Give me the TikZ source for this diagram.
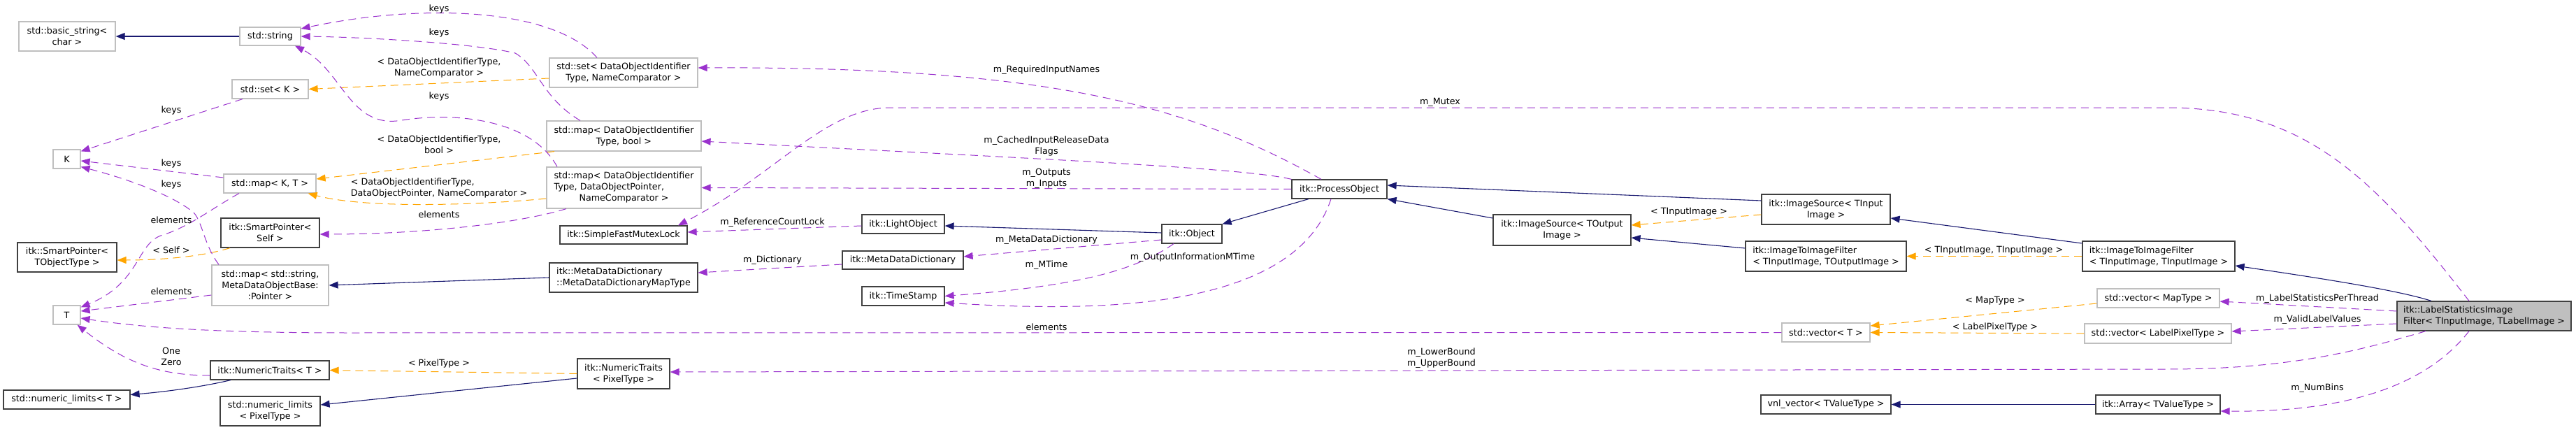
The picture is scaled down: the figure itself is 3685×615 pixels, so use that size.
\documentclass[tikz,border=0pt]{standalone}
\usepackage{fontspec}
\setmainfont{DejaVu Sans}
\usetikzlibrary{arrows.meta}
\definecolor{edgeblue}{HTML}{191970}
\definecolor{edgepurple}{HTML}{9A32CD}
\definecolor{edgeorange}{HTML}{FFA500}
\definecolor{boxgray}{HTML}{BFBFBF}
\definecolor{boxdark}{HTML}{404040}
\newcommand\nodefont{\fontsize{12.7}{16}\selectfont}

\begin{document}
\begin{tikzpicture}[x=1pt, y=-1pt,
    cls/.style={rectangle, draw=boxgray, line width=1.2pt, fill=white, inner sep=0pt, align=center, font=\nodefont},
    doc/.style={cls, draw=boxdark},
    cur/.style={doc, fill=boxgray},
    sz/.style 2 args={minimum width=#1pt, minimum height=#2pt},
    inh/.style={draw=edgeblue, line width=1.1pt, -{Triangle[length=13pt, width=10pt]}},
    mem/.style={draw=edgepurple, line width=1pt, dash pattern=on 11pt off 7pt, -{Triangle[length=13pt, width=10pt]}},
    tpl/.style={mem, draw=edgeorange},
    lbl/.style={font=\nodefont, inner sep=0pt, align=center}]
    \useasboundingbox (0,0) rectangle (3685,615);

    % Nodes
    \node [cls, sz={138}{42}] (bstr) at (96,52) {std::basic\_string<\\char >};
    \node [cls, sz={87}{26}] (str) at (386.5,52) {std::string};
    \node [cls, sz={109}{27}] (setK) at (386.5,127.5) {std::set< K >};
    \node [cls, sz={39}{27}] (K) at (95.5,227.5) {K};
    \node [cls, sz={132}{27}] (mapKT) at (386,262.5) {std::map< K, T >};
    \node [doc, sz={141}{42}] (spSelf) at (386.5,333) {itk::SmartPointer<\\Self >};
    \node [doc, sz={142}{42}] (spObj) at (96,368) {itk::SmartPointer<\\TObjectType >};
    \node [cls, sz={167}{58}] (mapStr) at (386.5,408) {std::map< std::string,\\MetaDataObjectBase:\\:Pointer >};
    \node [cls, sz={39}{27}] (T) at (95.5,450.5) {T};
    \node [doc, sz={170}{27}] (ntT) at (386,529.5) {itk::NumericTraits< T >};
    \node [doc, sz={181}{27}] (nlT) at (95.5,571.5) {std::numeric\_limits< T >};
    \node [doc, sz={143}{42}] (nlPix) at (386.5,588) {std::numeric\_limits\\< PixelType >};
    \node [cls, sz={212}{42}] (setDOI) at (892,104) {std::set< DataObjectIdentifier\\Type, NameComparator >};
    \node [cls, sz={221}{43}] (mapBool) at (892.5,194.5) {std::map< DataObjectIdentifier\\Type, bool >};
    \node [cls, sz={221}{59}] (mapDOP) at (892.5,268.5) {{\begin{tabular}{@{}l@{}}std::map< DataObjectIdentifier\\Type, DataObjectPointer,\\\multicolumn{1}{@{}c@{}}{NameComparator >}\end{tabular}}};
    \node [doc, sz={182}{26}] (mutex) at (892,336) {itk::SimpleFastMutexLock};
    \node [doc, sz={212}{42}, align=left] (mddMap) at (892,397) {itk::MetaDataDictionary\\::MetaDataDictionaryMapType};
    \node [doc, sz={132}{43}] (ntPix) at (892,534.5) {itk::NumericTraits\\< PixelType >};
    \node [doc, sz={118}{27}] (light) at (1292,320.5) {itk::LightObject};
    \node [doc, sz={173}{26}] (mdd) at (1291.5,372) {itk::MetaDataDictionary};
    \node [doc, sz={118}{27}] (stamp) at (1292,423.5) {itk::TimeStamp};
    \node [doc, sz={86}{27}] (obj) at (1705,334.5) {itk::Object};
    \node [doc, sz={136}{27}] (proc) at (1916,270.5) {itk::ProcessObject};
    \node [doc, sz={197}{44}] (srcOut) at (2234.5,329) {itk::ImageSource< TOutput\\Image >};
    \node [doc, sz={184}{43}] (srcIn) at (2612,299.5) {itk::ImageSource< TInput\\Image >};
    \node [doc, sz={230}{43}, align=left] (i2iOut) at (2612,366.5) {itk::ImageToImageFilter\\< TInputImage, TOutputImage >};
    \node [cls, sz={126}{27}] (vecT) at (2612,475.5) {std::vector< T >};
    \node [doc, sz={186}{27}] (vnl) at (2612,578.5) {vnl\_vector< TValueType >};
    \node [doc, sz={218}{43}, align=left] (i2iIn) at (3088,366.5) {itk::ImageToImageFilter\\< TInputImage, TInputImage >};
    \node [cls, sz={175}{27}] (vecMap) at (3087.5,426.5) {std::vector< MapType >};
    \node [cls, sz={210}{28}] (vecLab) at (3087,477) {std::vector< LabelPixelType >};
    \node [doc, sz={178}{27}] (arr) at (3087,578.5) {itk::Array< TValueType >};
    \node [cur, sz={249}{42}, align=left] (lsf) at (3553.5,452) {itk::LabelStatisticsImage\\Filter< TInputImage, TLabelImage >};

    % Inheritance
    \draw [inh] (str.west) -- (bstr.east);
    \draw [inh] (mddMap.west) -- (mapStr.east);
    \draw [inh] ([xshift=-56pt]ntT.south) .. controls (290,553) and (240,560) .. ([yshift=7pt]nlT.east);
    \draw [inh] ([yshift=-6.5pt]ntPix.west) -- ([yshift=9pt]nlPix.east);
    \draw [inh] ([yshift=1.5pt]obj.west) -- ([yshift=-2.5pt]light.east);
    \draw [inh] ([xshift=-44pt]proc.south) -- (obj.north east);
    \draw [inh] ([yshift=12.5pt]srcIn.west) -- ([yshift=5.5pt]proc.east);
    \draw [inh] ([yshift=17pt]srcOut.west) -- (proc.south east);
    \draw [inh] ([yshift=11.5pt]i2iOut.west) -- ([yshift=-11pt]srcOut.east);
    \draw [inh] ([yshift=18.5pt]i2iIn.west) -- ([yshift=-12.5pt]srcIn.east);
    \draw [inh] ([xshift=-75.5pt]lsf.north) .. controls (3430,415) and (3320,398) .. ([yshift=-13.5pt]i2iIn.east);
    \draw [inh] (arr.west) -- (vnl.east);

    % Templates
    \draw [tpl] ([yshift=-8pt]setDOI.west) -- (setK.east) node [lbl] at (628,97) {< DataObjectIdentifierType,\\NameComparator >};
    \draw [tpl] ([xshift=-99.5pt]mapBool.south) -- ([yshift=6.5pt]mapKT.east) node [lbl] at (628,207) {< DataObjectIdentifierType,\\bool >};
    \draw [tpl] ([yshift=-15.5pt]mapDOP.west) .. controls (700,292) and (530,300) .. ([xshift=-12pt]mapKT.south east) node [lbl, align=left] at (628,269) {< DataObjectIdentifierType,\\DataObjectPointer, NameComparator >};
    \draw [tpl] ([xshift=-57.5pt]spSelf.south) .. controls (290,367) and (230,372) .. ([yshift=-4pt]spObj.east) node [lbl] at (245,358) {< Self >};
    \draw [tpl] (ntPix.west) -- (ntT.east) node [lbl] at (628,520) {< PixelType >};
    \draw [tpl] ([yshift=-7.5pt]srcIn.west) -- ([yshift=7pt]srcOut.east) node [lbl] at (2416,303) {< TInputImage >};
    \draw [tpl] (i2iIn.west) -- (i2iOut.east) node [lbl] at (2852,358) {< TInputImage, TInputImage >};
    \draw [tpl] ([yshift=-7.5pt]vecMap.west) -- ([yshift=9.5pt]vecT.east) node [lbl] at (2854,430) {< MapType >};
    \draw [tpl] (vecLab.west) -- (vecT.east) node [lbl] at (2854,468) {< LabelPixelType >};

    % Members
    \draw [mem] ([xshift=-38pt]setDOI.north) .. controls (790,10) and (600,5) .. ([yshift=11pt]str.east) node [lbl] at (628,13) {keys};
    \draw [mem] ([xshift=-62.5pt]mapBool.north) .. controls (775,140) and (770,95) .. (737,76) .. controls (680,62) and (520,53) .. (str.east) node [lbl] at (628,47) {keys};
    \draw [mem] ([xshift=-95.5pt]mapDOP.north) .. controls (760,170) and (650,160) .. (575,172) .. controls (500,185) and (490,100) .. ([xshift=35.5pt]str.south) node [lbl] at (628,138) {keys};
    \draw [mem] ([xshift=-39.5pt]setK.south) -- ([yshift=-3pt]K.north east) node [lbl] at (245,158) {keys};
    \draw [mem] ([yshift=8.5pt]mapKT.west) -- ([yshift=-2.5pt]K.east) node [lbl] at (245,234) {keys};
    \draw [mem] ([xshift=-73.5pt]mapStr.north) .. controls (292,350) and (290,320) .. (278,305) .. controls (250,280) and (180,255) .. ([yshift=3pt]K.south east) node [lbl] at (245,264) {keys};
    \draw [mem] ([xshift=-44pt]mapKT.south) .. controls (300,300) and (270,325) .. (230,337) .. controls (195,350) and (200,405) .. ([yshift=-3pt]T.north east) node [lbl] at (245,315) {elements};
    \draw [mem] ([yshift=-14pt]mapStr.west) -- ([yshift=5.5pt]T.east) node [lbl] at (245,417) {elements};
    \draw [mem] (vecT.west) -- (500,476) .. controls (300,476) and (200,468) .. ([yshift=-4.5pt]T.east) node [lbl] at (1497,468) {elements};
    \draw [mem] ([yshift=-7.5pt]ntT.west) .. controls (230,537) and (180,520) .. ([xshift=-5pt]T.south east) node [lbl] at (245,510) {One\\Zero};
    \draw [mem] ([xshift=-82.5pt]mapDOP.south) .. controls (740,320) and (600,335) .. ([yshift=-2pt]spSelf.east) node [lbl] at (628,307) {elements};
    \draw [mem] ([xshift=-26pt]proc.north) .. controls (1700,150) and (1500,95) .. ([yshift=7pt]setDOI.east) node [lbl] at (1497,100) {m\_RequiredInputNames};
    \draw [mem] (proc.north west) .. controls (1780,240) and (1500,228) .. ([yshift=-7.5pt]mapBool.east) node [lbl] at (1497,209) {m\_CachedInputReleaseData\\Flags};
    \draw [mem] (proc.west) -- (mapDOP.east) node [lbl] at (1497,255) {m\_Outputs\\m\_Inputs};
    \draw [mem] ([yshift=-2.5pt]light.west) -- ([yshift=4pt]mutex.east) node [lbl] at (1105,318) {m\_ReferenceCountLock};
    \draw [mem] ([yshift=-8.5pt]obj.west) -- ([yshift=5pt]mdd.east) node [lbl] at (1497,343) {m\_MetaDataDictionary};
    \draw [mem] ([yshift=-6pt]mdd.west) -- ([yshift=7pt]mddMap.east) node [lbl] at (1105,372) {m\_Dictionary};
    \draw [mem] ([xshift=-26pt]obj.south) .. controls (1620,390) and (1530,410) .. (stamp.east) node [lbl] at (1497,379) {m\_MTime};
    \draw [mem] ([xshift=-12pt]proc.south) .. controls (1850,450) and (1550,445) .. ([yshift=-9.5pt]stamp.east) node [lbl] at (1706,368) {m\_OutputInformationMTime};
    \draw [mem] ([xshift=-21.5pt]lsf.north) .. controls (3400,260) and (3300,154) .. (3100,154) -- (1274,154) .. controls (1180,154) and (1110,250) .. ([xshift=78pt]mutex.north) node [lbl] at (2060,146) {m\_Mutex};
    \draw [mem] ([xshift=-83.5pt]lsf.south) .. controls (3380,500) and (3280,528) .. (3100,528) -- ([yshift=2.5pt]ntPix.east) node [lbl] at (2062,512) {m\_LowerBound\\m\_UpperBound};
    \draw [mem] ([yshift=7pt]lsf.west) -- ([yshift=-4.5pt]vecMap.east) node [lbl] at (3315,427) {m\_LabelStatisticsPerThread};
    \draw [mem] ([yshift=-11pt]lsf.west) -- ([yshift=3pt]vecLab.east) node [lbl] at (3315,457) {m\_ValidLabelValues};
    \draw [mem] ([xshift=-21.5pt]lsf.south) .. controls (3480,540) and (3380,590) .. ([yshift=-9.5pt]arr.east) node [lbl] at (3315,555) {m\_NumBins};
  \end{tikzpicture}
\end{document}
